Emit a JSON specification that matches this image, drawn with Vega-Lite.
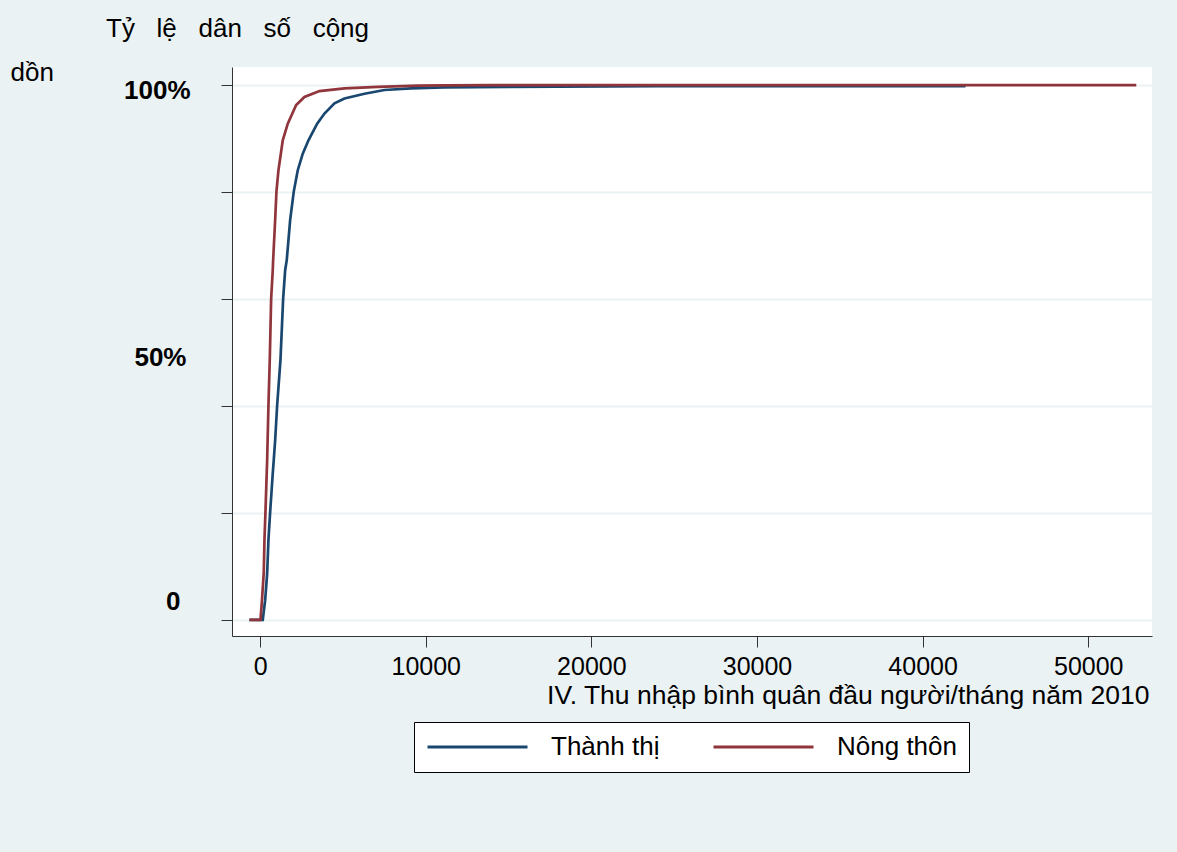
{
  "$schema": "https://vega.github.io/schema/vega-lite/v6.json",
  "autosize": {"type": "none"},
  "padding": {"left": 232, "top": 67, "right": 25, "bottom": 216},
  "width": 920,
  "height": 569,
  "background": "#EAF2F3",
  "title": {
    "text": "Tỷ\u00a0\u00a0 lệ\u00a0\u00a0 dân\u00a0\u00a0 số\u00a0\u00a0 cộng",
    "anchor": "start",
    "frame": "group",
    "dx": -126,
    "offset": 17,
    "font": "Liberation Sans",
    "fontSize": 26,
    "fontWeight": "normal",
    "color": "#000000"
  },
  "config": {
    "view": {"fill": "#FFFFFF", "stroke": null},
    "font": "Liberation Sans",
    "axis": {
      "labelFont": "Liberation Sans",
      "labelColor": "#000000",
      "titleFont": "Liberation Sans",
      "titleColor": "#000000",
      "titleFontWeight": "normal",
      "domainColor": "#333333",
      "tickColor": "#333333",
      "labelFlush": false,
      "labelOverlap": false
    }
  },
  "data": {
    "values": [
      {"x": -646, "y": 0, "g": "Thành thị"},
      {"x": 157, "y": 0, "g": "Thành thị"},
      {"x": 302, "y": 0.037, "g": "Thành thị"},
      {"x": 423, "y": 0.087, "g": "Thành thị"},
      {"x": 501, "y": 0.15, "g": "Thành thị"},
      {"x": 604, "y": 0.202, "g": "Thành thị"},
      {"x": 761, "y": 0.274, "g": "Thành thị"},
      {"x": 821, "y": 0.299, "g": "Thành thị"},
      {"x": 906, "y": 0.336, "g": "Thành thị"},
      {"x": 1027, "y": 0.402, "g": "Thành thị"},
      {"x": 1226, "y": 0.486, "g": "Thành thị"},
      {"x": 1389, "y": 0.601, "g": "Thành thị"},
      {"x": 1510, "y": 0.654, "g": "Thành thị"},
      {"x": 1606, "y": 0.673, "g": "Thành thị"},
      {"x": 1812, "y": 0.748, "g": "Thành thị"},
      {"x": 2029, "y": 0.801, "g": "Thành thị"},
      {"x": 2271, "y": 0.841, "g": "Thành thị"},
      {"x": 2572, "y": 0.872, "g": "Thành thị"},
      {"x": 2917, "y": 0.897, "g": "Thành thị"},
      {"x": 3442, "y": 0.928, "g": "Thành thị"},
      {"x": 3883, "y": 0.947, "g": "Thành thị"},
      {"x": 4487, "y": 0.966, "g": "Thành thị"},
      {"x": 5091, "y": 0.975, "g": "Thành thị"},
      {"x": 6299, "y": 0.984, "g": "Thành thị"},
      {"x": 7506, "y": 0.991, "g": "Thành thị"},
      {"x": 9118, "y": 0.994, "g": "Thành thị"},
      {"x": 11129, "y": 0.996, "g": "Thành thị"},
      {"x": 15000, "y": 0.997, "g": "Thành thị"},
      {"x": 24000, "y": 0.998, "g": "Thành thị"},
      {"x": 42590, "y": 0.998, "g": "Thành thị"},
      {"x": -646, "y": 0, "g": "Nông thôn"},
      {"x": 18, "y": 0, "g": "Nông thôn"},
      {"x": 97, "y": 0.031, "g": "Nông thôn"},
      {"x": 217, "y": 0.088, "g": "Nông thôn"},
      {"x": 260, "y": 0.15, "g": "Nông thôn"},
      {"x": 320, "y": 0.202, "g": "Nông thôn"},
      {"x": 423, "y": 0.299, "g": "Nông thôn"},
      {"x": 501, "y": 0.402, "g": "Nông thôn"},
      {"x": 580, "y": 0.486, "g": "Nông thôn"},
      {"x": 664, "y": 0.601, "g": "Nông thôn"},
      {"x": 760, "y": 0.654, "g": "Nông thôn"},
      {"x": 785, "y": 0.673, "g": "Nông thôn"},
      {"x": 906, "y": 0.748, "g": "Nông thôn"},
      {"x": 984, "y": 0.801, "g": "Nông thôn"},
      {"x": 1105, "y": 0.841, "g": "Nông thôn"},
      {"x": 1365, "y": 0.897, "g": "Nông thôn"},
      {"x": 1667, "y": 0.928, "g": "Nông thôn"},
      {"x": 2174, "y": 0.963, "g": "Nông thôn"},
      {"x": 2675, "y": 0.978, "g": "Nông thôn"},
      {"x": 3581, "y": 0.989, "g": "Nông thôn"},
      {"x": 5091, "y": 0.994, "g": "Nông thôn"},
      {"x": 7101, "y": 0.997, "g": "Nông thôn"},
      {"x": 9517, "y": 0.999, "g": "Nông thôn"},
      {"x": 11129, "y": 0.9995, "g": "Nông thôn"},
      {"x": 14000, "y": 1.0, "g": "Nông thôn"},
      {"x": 52900, "y": 1.0, "g": "Nông thôn"}
    ]
  },
  "encoding": {
    "x": {
      "field": "x",
      "type": "quantitative",
      "scale": {"domain": [-1700, 53850], "nice": false, "zero": false},
      "axis": {
        "values": [0, 10000, 20000, 30000, 40000, 50000],
        "format": "d",
        "grid": false,
        "domainWidth": 1,
        "tickSize": 11,
        "tickWidth": 1,
        "labelFontSize": 25,
        "labelPadding": 7,
        "title": "IV. Thu nhập bình quân đầu người/tháng năm 2010",
        "titleFontSize": 26.5,
        "titleAlign": "right",
        "titleAnchor": "end",
        "titleBaseline": "alphabetic",
        "titleX": 917,
        "titleY": 67
      }
    }
  },
  "layer": [
    {
      "mark": {"type": "line", "strokeWidth": 2.7, "interpolate": "linear", "clip": true},
      "encoding": {
        "y": {
          "field": "y",
          "type": "quantitative",
          "scale": {"domain": [-0.03, 1.034], "nice": false, "zero": false},
          "axis": {
            "orient": "left",
            "values": [0, 0.2, 0.4, 0.6, 0.8, 1],
            "labels": false,
            "grid": true,
            "gridColor": "#EAF2F3",
            "gridWidth": 2,
            "domainWidth": 1,
            "tickSize": 11,
            "tickWidth": 1,
            "title": "dồn",
            "titleFontSize": 26,
            "titleAngle": 0,
            "titleAlign": "left",
            "titleBaseline": "alphabetic",
            "titleX": -222,
            "titleY": 13
          }
        },
        "color": {
          "field": "g",
          "type": "nominal",
          "sort": ["Thành thị", "Nông thôn"],
          "scale": {"domain": ["Thành thị", "Nông thôn"], "range": ["#1A476F", "#90353B"]},
          "legend": {
            "title": null,
            "orient": "none",
            "legendX": 182,
            "legendY": 655,
            "direction": "horizontal",
            "symbolType": "stroke",
            "symbolSize": 10000,
            "symbolStrokeWidth": 3,
            "clipHeight": 26,
            "labelFont": "Liberation Sans",
            "labelFontSize": 26,
            "labelColor": "#000000",
            "labelOffset": 22,
            "labelLimit": 300,
            "columnPadding": 52,
            "padding": 12,
            "fillColor": "#FFFFFF",
            "strokeColor": "#000000",
            "cornerRadius": 0
          }
        }
      }
    },
    {
      "mark": {"type": "point", "opacity": 0},
      "encoding": {
        "y": {
          "field": "y",
          "type": "quantitative",
          "scale": {"domain": [-0.03, 1.034], "nice": false, "zero": false},
          "axis": {
            "orient": "left",
            "values": [1],
            "labelExpr": "'100%'",
            "domain": false,
            "ticks": false,
            "tickSize": 0,
            "grid": false,
            "labelFontSize": 26,
            "labelFontWeight": "bold",
            "labelAlign": "right",
            "labelBaseline": "middle",
            "labelOffset": 5,
            "labelPadding": 42,
            "title": null
          }
        }
      }
    },
    {
      "mark": {"type": "point", "opacity": 0},
      "encoding": {
        "y": {
          "field": "y",
          "type": "quantitative",
          "scale": {"domain": [-0.03, 1.034], "nice": false, "zero": false},
          "axis": {
            "orient": "left",
            "values": [0.5],
            "labelExpr": "'50%'",
            "domain": false,
            "ticks": false,
            "tickSize": 0,
            "grid": false,
            "labelFontSize": 26,
            "labelFontWeight": "bold",
            "labelAlign": "right",
            "labelBaseline": "middle",
            "labelOffset": 5,
            "labelPadding": 46,
            "title": null
          }
        }
      }
    },
    {
      "mark": {"type": "point", "opacity": 0},
      "encoding": {
        "y": {
          "field": "y",
          "type": "quantitative",
          "scale": {"domain": [-0.03, 1.034], "nice": false, "zero": false},
          "axis": {
            "orient": "left",
            "values": [0],
            "labelExpr": "'0'",
            "domain": false,
            "ticks": false,
            "tickSize": 0,
            "grid": false,
            "labelFontSize": 26,
            "labelFontWeight": "bold",
            "labelAlign": "right",
            "labelBaseline": "middle",
            "labelOffset": -18,
            "labelPadding": 52,
            "title": null
          }
        }
      }
    }
  ],
  "resolve": {"scale": {"y": "independent"}, "axis": {"y": "independent"}}
}
